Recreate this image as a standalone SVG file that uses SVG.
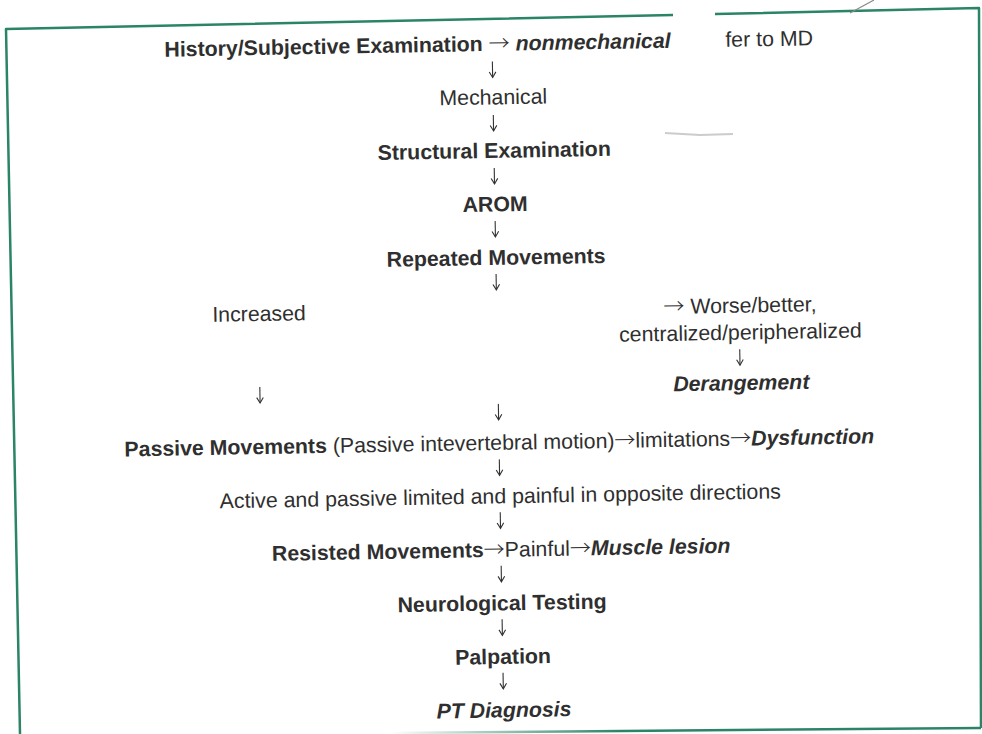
<svg xmlns="http://www.w3.org/2000/svg" width="982" height="734" viewBox="0 0 982 734">
<defs>
<style>
.t{font-family:"Liberation Sans",Arial,Helvetica,sans-serif;font-size:21.3px;fill:#2f2f2f}
.b{font-weight:bold}
.bi{font-weight:bold;font-style:italic}
.r{font-weight:normal;font-style:normal}
.a{font-family:"Noto Sans CJK SC","DejaVu Sans",sans-serif;font-weight:300;font-style:normal;font-size:21px}
.c{text-anchor:middle}
.arr{stroke:#333;stroke-width:1.1;fill:none;marker-end:url(#ah)}
.frame{fill:none;stroke:#2b8466;stroke-width:2.5;stroke-linejoin:round}
</style>
<marker id="ah" markerUnits="userSpaceOnUse" viewBox="-7 -5 9 10" markerWidth="9" markerHeight="10" refX="0" refY="0" orient="auto">
<path d="M-5.5,-3.3 L0,0 L-5.5,3.3" fill="none" stroke="#333" stroke-width="1.1"/>
</marker>
<linearGradient id="fade" x1="390" y1="0" x2="620" y2="0" gradientUnits="userSpaceOnUse">
<stop offset="0" stop-color="#2b8466" stop-opacity="0"/>
<stop offset="1" stop-color="#2b8466" stop-opacity="1"/>
</linearGradient>
</defs>
<rect width="982" height="734" fill="#ffffff"/>
<g id="frame">
<path class="frame" d="M20,734 L6,29 L673,15"/>
<path class="frame" d="M715,14 L979,8 L981,728"/>
<path d="M390,733 L981,728" stroke="url(#fade)" stroke-width="2.5" fill="none"/>
<line x1="874" y1="0" x2="850" y2="13" stroke="#8a8a8a" stroke-width="1.2"/>
<path d="M665,133 L700,135 L733,134" stroke="#9a9a9a" stroke-width="2" opacity="0.5" fill="none"/>
</g>
<g transform="rotate(-1 491 367)">
<g id="connectors">
<path class="arr" d="M497.7,61.5 V77.5"/>
<path class="arr" d="M497.7,115 V131"/>
<path class="arr" d="M497.7,168 V184"/>
<path class="arr" d="M497.7,221 V237"/>
<path class="arr" d="M497.7,274 V290"/>
<path class="arr" d="M740,353.5 V369.5"/>
<path class="arr" d="M259.5,383 V399"/>
<path class="arr" d="M497.7,404 V420"/>
<path class="arr" d="M497.7,459.5 V475.5"/>
<path class="arr" d="M497.7,512.5 V528.5"/>
<path class="arr" d="M497.7,566 V582"/>
<path class="arr" d="M497.7,619.5 V635.5"/>
<path class="arr" d="M497.7,673 V689"/>
</g>
<g id="history"><text class="t b" x="170" y="51">History/Subjective Examination<tspan class="r"> </tspan><tspan class="a">→</tspan><tspan class="r"> </tspan><tspan class="bi">nonmechanical</tspan></text>
<text class="t" x="731" y="51">fer to MD</text></g>
<g id="mechanical"><text class="t c" x="498" y="104.5">Mechanical</text></g>
<g id="structural"><text class="t b c" x="498" y="158">Structural Examination</text></g>
<g id="arom"><text class="t b c" x="498" y="211.5">AROM</text></g>
<g id="repeated"><text class="t b c" x="498" y="265">Repeated Movements</text></g>
<g id="increased"><text class="t c" x="260" y="317">Increased</text></g>
<g id="worse"><text class="t c" x="741" y="317"><tspan class="a">→</tspan> Worse/better,</text>
<text class="t c" x="741" y="344">centralized/peripheralized</text></g>
<g id="derangement"><text class="t bi c" x="741" y="394.5">Derangement</text></g>
<g id="passive"><text class="t c" x="498" y="450"><tspan class="b">Passive Movements</tspan> (Passive intevertebral motion)<tspan class="a">→</tspan>limitations<tspan class="a">→</tspan><tspan class="bi">Dysfunction</tspan></text></g>
<g id="active"><text class="t c" x="498" y="503.5">Active and passive limited and painful in opposite directions</text></g>
<g id="resisted"><text class="t c" x="498" y="557"><tspan class="b">Resisted Movements</tspan><tspan class="a">→</tspan>Painful<tspan class="a">→</tspan><tspan class="bi">Muscle lesion</tspan></text></g>
<g id="neuro"><text class="t b c" x="498" y="610.5">Neurological Testing</text></g>
<g id="palpation"><text class="t b c" x="498" y="664">Palpation</text></g>
<g id="diagnosis"><text class="t bi c" x="498" y="717.5">PT Diagnosis</text></g>
</g>
</svg>
